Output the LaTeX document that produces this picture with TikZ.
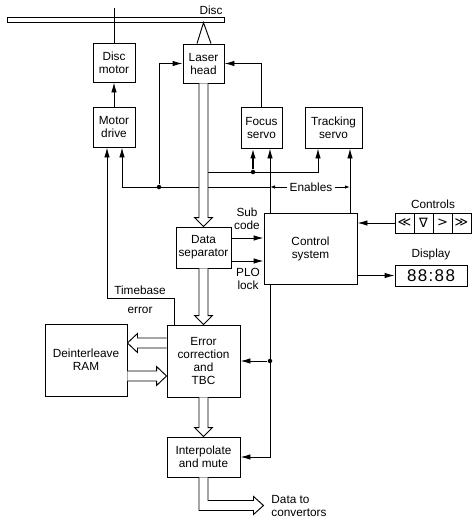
\documentclass[tikz,border=0pt]{standalone}
\usepackage{fontspec}
\setmainfont{Liberation Sans}
\newfontfamily\symfont{DejaVu Sans}
\usetikzlibrary{arrows.meta,calc}
\newcommand\hollowdown[2]{\filldraw[hollowst] let \p1=(#1), \p2=(#2) in
  (\x1-4.5pt,\y1) -- (\x1-4.5pt,\y2+9pt) -- (\x1-9pt,\y2+9pt) -- (\x1,\y2) --
  (\x1+9pt,\y2+9pt) -- (\x1+4.5pt,\y2+9pt) -- (\x1+4.5pt,\y1);}
\newcommand\hollowleft[2]{\filldraw[hollowst] let \p1=(#1), \p2=(#2) in
  (\x1,\y1+5pt) -- (\x2+10pt,\y1+5pt) -- (\x2+10pt,\y1+9.5pt) -- (\x2,\y1) --
  (\x2+10pt,\y1-9.5pt) -- (\x2+10pt,\y1-5pt) -- (\x1,\y1-5pt);}
\newcommand\hollowright[2]{\filldraw[hollowst] let \p1=(#1), \p2=(#2) in
  (\x1,\y1+5pt) -- (\x2-10pt,\y1+5pt) -- (\x2-10pt,\y1+9.5pt) -- (\x2,\y1) --
  (\x2-10pt,\y1-9.5pt) -- (\x2-10pt,\y1-5pt) -- (\x1,\y1-5pt);}
\begin{document}
\begin{tikzpicture}[x=1pt,y=-1pt,line width=0.95pt,
  txt/.style={font=\fontsize{11.8}{13}\selectfont},
  box/.style={draw,rectangle,inner sep=0pt,align=center,txt},
  lbl/.style={inner sep=0pt,align=center,txt},
  arr/.style={-{Latex[length=10pt,width=5.5pt]}},
  smallarr/.style={-{Latex[length=5pt,width=3.5pt]}},
  dot/.style={circle,fill,inner sep=0pt,minimum size=4.5pt},
  hollowst/.style={fill=white,line join=miter},
  cell/.style={draw,rectangle,inner sep=0pt,minimum width=19pt,minimum height=20pt,
    font=\symfont\fontsize{13}{13}\selectfont}]
\useasboundingbox (0,0) rectangle (472,525);
% disc
\node[draw,fill=white,inner sep=0pt,minimum width=217pt,minimum height=4.5pt,line width=0.8pt] (disc) at (115.5,20) {};
\node[lbl] (disclbl) at (211,10) {Disc};
% boxes
\node[box,minimum width=42pt,minimum height=39pt] (dm) at (114,62.5) {Disc\\motor};
\node[box,minimum width=41pt,minimum height=39pt] (las) at (203.5,63.5) {Laser\\head};
\node[box,minimum width=42pt,minimum height=40pt] (mdr) at (114,127) {Motor\\drive};
\node[box,minimum width=41pt,minimum height=41pt] (foc) at (261.5,127.5) {Focus\\servo};
\node[box,minimum width=57pt,minimum height=41pt] (trk) at (333.5,127.5) {Tracking\\servo};
\node[box,minimum width=55pt,minimum height=41pt] (dsep) at (203.5,247.5) {Data\\separator};
\node[box,minimum width=93pt,minimum height=71pt] (ctl) at (310.5,248.5) {Control\\system};
\node[box,minimum width=73pt,minimum height=72pt] (err) at (203.5,361) {Error\\correction\\and\\TBC};
\node[box,minimum width=82pt,minimum height=72pt] (ram) at (86,360) {Deinterleave\\RAM};
\node[box,minimum width=73pt,minimum height=40pt] (itp) at (203.5,457) {Interpolate\\and mute};
% controls and display
\node[cell] (c1) at (404.5,223) {≪};
\node[cell] (c2) at (423.5,223) {∇};
\node[cell] (c3) at (442.5,223) {>};
\node[cell] (c4) at (461.5,223) {≫};
\node[lbl] (ctlbl) at (433,204) {Controls};
\node[draw,inner sep=0pt,minimum width=72pt,minimum height=21pt,font=\fontsize{17}{17}\selectfont\addfontfeatures{LetterSpace=8}] (disp) at (431,275.5) {88:88};
\node[lbl] (displbl) at (431,254) {Display};
% spindle and laser beam
\draw (dm.north) -- ++(0,-35);
\draw ([xshift=-6.5pt]las.north) -- (las.north |- disc.south) -- ([xshift=7.5pt]las.north);
% helper points
\coordinate (fa) at ([xshift=-8.5pt]foc.south);
\coordinate (fb) at ([xshift=8.5pt]foc.south);
\coordinate (ta) at ([xshift=-15.5pt]trk.south);
\coordinate (tb) at ([xshift=16.5pt]trk.south);
\coordinate (ma) at ([xshift=-7pt]mdr.south);
\coordinate (mb) at ([xshift=8pt]mdr.south);
\coordinate (en) at (270,187);
\coordinate (ls) at (208,172);
% motor drive
\draw[arr] (mdr.north) -- (dm.south);
\draw[arr] ([xshift=8pt]err.north west) -- ++(0,-26) -| (ma);
\node[lbl] (tbe) at (140,299.5) {Timebase\\[6pt]error};
% enables
\draw[arr] (fb |- ctl.north) -- (fb);
\draw[arr] (tb |- ctl.north) -- (tb);
\draw[arr] (en) -| (mb);
\node[dot] (d1) at (159,187) {};
\draw[arr] (d1) |- (las.west);
\node[lbl] (enl) at (311,187) {Enables};
\draw[smallarr] ([xshift=-2pt]enl.west) -- (fb |- enl.west);
\draw[smallarr] ([xshift=2pt]enl.east) -- (tb |- enl.east);
% focus loop
\draw[arr] (foc.north) |- (las.east);
% laser to servos
\draw[arr] (ls) -| (ta);
\node[dot] (d2) at (fa |- ls) {};
\draw[arr,line width=1.6pt] (d2) -- (fa);
% data path
\hollowdown{las.south}{dsep.north}
\hollowdown{dsep.south}{err.north}
\hollowdown{err.south}{itp.north}
\coordinate (ea) at ([yshift=18pt]err.west);
\hollowleft{ea}{ea -| ram.east}
\coordinate (eb) at ([yshift=-15pt]err.west);
\hollowright{eb -| ram.east}{eb}
\filldraw[hollowst] let \p1=(itp.south) in (\x1-4.5pt,\y1) -- (\x1-4.5pt,\y1-33pt) -- (\x1+50pt,\y1-33pt) -- (\x1+50pt,\y1-37pt) -- (\x1+60pt,\y1-28pt) -- (\x1+50pt,\y1-19pt) -- (\x1+50pt,\y1-23pt) -- (\x1+4.5pt,\y1-23pt) -- (\x1+4.5pt,\y1);
\node[lbl,anchor=west,align=left] (dtc) at (271,506) {Data to\\convertors};
% sub code, PLO
\coordinate (sc) at ([yshift=9.5pt]dsep.east);
\draw[arr] (sc) -- (sc -| ctl.west);
\node[lbl] (sclbl) at (247,219) {Sub\\code};
\coordinate (plo) at ([yshift=-13.5pt]dsep.east);
\draw[arr] (plo) -- (plo -| ctl.west);
\node[lbl] (plolbl) at (248,279) {PLO\\lock};
% controls / display
\draw[arr] (c1.west) -- (c1.west -| ctl.east);
\draw[arr] (disp.west -| ctl.east) -- (disp.west);
% control to error correction and interpolate
\coordinate (cb) at (fb |- ctl.south);
\draw[arr] (cb) |- (itp.east);
\node[dot] (d3) at (fb |- err.east) {};
\draw[arr] (d3) -- (err.east);
\end{tikzpicture}
\end{document}
